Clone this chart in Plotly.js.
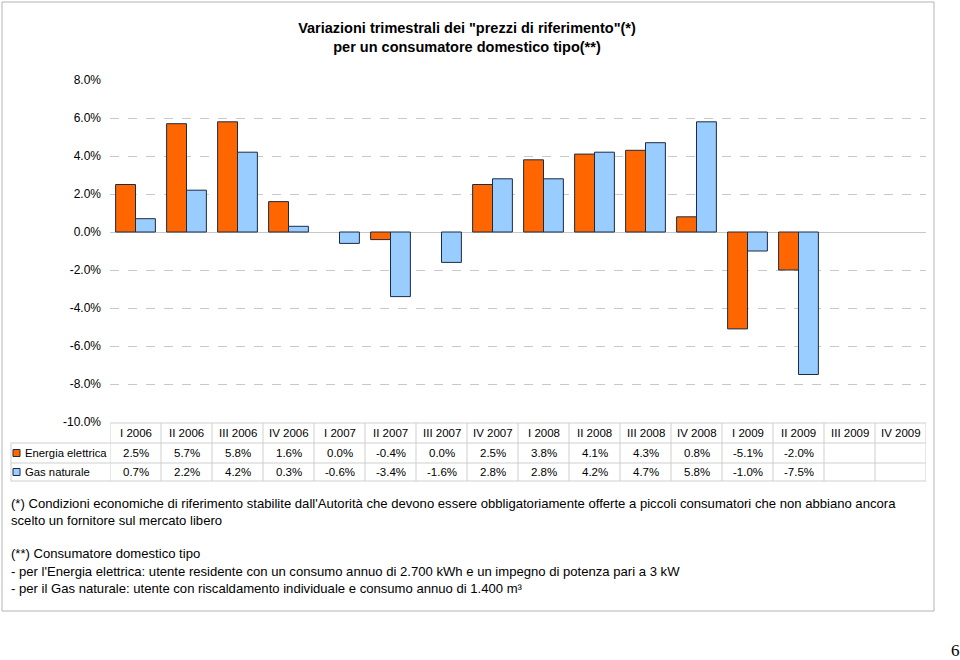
<!DOCTYPE html>
<html>
<head>
<meta charset="utf-8">
<script src="https://cdn.plot.ly/plotly-3.0.1.min.js"></script>
<style>body{margin:0;padding:0;background:#fff;} #chart{width:960px;height:660px;}</style>
</head>
<body>
<div id="chart"></div>
<script>
const categories = ["I 2006","II 2006","III 2006","IV 2006","I 2007","II 2007","III 2007","IV 2007","I 2008","II 2008","III 2008","IV 2008","I 2009","II 2009","III 2009","IV 2009"];
const energiaElettrica = [2.5, 5.7, 5.8, 1.6, 0.0, -0.4, 0.0, 2.5, 3.8, 4.1, 4.3, 0.8, -5.1, -2.0, null, null];
const gasNaturale = [0.7, 2.2, 4.2, 0.3, -0.6, -3.4, -1.6, 2.8, 2.8, 4.2, 4.7, 5.8, -1.0, -7.5, null, null];
const seriesNames = ["Energia elettrica", "Gas naturale"];
const yTickValues = [-10, -8, -6, -4, -2, 0, 2, 4, 6, 8];
const titleText = 'Variazioni trimestrali dei "prezzi di riferimento"(*)<br>per un consumatore domestico tipo(**)';
const footnotes = [
  "(*) Condizioni economiche di riferimento stabilite dall'Autorità che devono essere obbligatoriamente offerte a piccoli consumatori che non abbiano ancora",
  "scelto un fornitore sul mercato libero",
  "(**) Consumatore domestico tipo",
  "- per l'Energia elettrica: utente residente con un consumo annuo di 2.700 kWh e un impegno di potenza pari a 3 kW",
  "- per il Gas naturale: utente con riscaldamento individuale e consumo annuo di 1.400 m³"
];
const pageNumber = "6";

const W = 960, H = 660;
const py = y => 1 - y / H;
const px = x => x / W;
const colors = ["#FF6600", "#99CCFF"];
const outline = "#1c2b45";
const gridCol = "#c8c8c8";
const tableCol = "#cfcfcf";
const font = "Liberation Sans, Arial, sans-serif";

const traces = [energiaElettrica, gasNaturale].map((vals, i) => ({
  type: "bar",
  x: categories,
  y: vals,
  name: seriesNames[i],
  marker: {color: colors[i], line: {color: outline, width: vals.map(v => (v === 0 || v === null) ? 0 : 1)}},
  hoverinfo: "skip"
}));

const shapes = [];
const annotations = [];

// outer frame
shapes.push({type: "rect", xref: "paper", yref: "paper", x0: px(2), x1: px(934), y0: py(2), y1: py(611), line: {color: "#b4b4b4", width: 1}, layer: "below"});

// data table
const yHeadTop = 423, yRow1 = 443, yRow2 = 463, yBot = 481;
shapes.push({type: "line", xref: "x", yref: "paper", x0: -0.5, x1: categories.length - 0.5, y0: py(yHeadTop), y1: py(yHeadTop), line: {color: tableCol, width: 1}});
[yRow1, yRow2, yBot].forEach(y => shapes.push({type: "line", xref: "paper", yref: "paper", x0: px(11), x1: px(926), y0: py(y), y1: py(y), line: {color: tableCol, width: 1}}));
for (let i = 0; i <= categories.length; i++) {
  shapes.push({type: "line", xref: "x", yref: "paper", x0: i - 0.5, x1: i - 0.5, y0: py(yHeadTop), y1: py(yBot), line: {color: tableCol, width: 1}});
}
shapes.push({type: "line", xref: "paper", yref: "paper", x0: px(11), x1: px(11), y0: py(yRow1), y1: py(yBot), line: {color: tableCol, width: 1}});

categories.forEach((c, i) => {
  annotations.push({xref: "x", yref: "paper", x: c, y: py((yHeadTop + yRow1) / 2), text: c, showarrow: false, font: {family: font, size: 11.5, color: "#000"}, xanchor: "center", yanchor: "middle"});
});
[energiaElettrica, gasNaturale].forEach((vals, r) => {
  const yc = r === 0 ? (yRow1 + yRow2) / 2 : (yRow2 + yBot) / 2;
  vals.forEach((v, i) => {
    if (v === null) return;
    annotations.push({xref: "x", yref: "paper", x: categories[i], y: py(yc), text: v.toFixed(1) + "%", showarrow: false, font: {family: font, size: 11.5, color: "#000"}, xanchor: "center", yanchor: "middle"});
  });
  shapes.push({type: "rect", xref: "paper", yref: "paper", x0: px(13), x1: px(20), y0: py(yc - 3.5), y1: py(yc + 3.5), fillcolor: colors[r], line: {color: outline, width: 1}});
  annotations.push({xref: "paper", yref: "paper", x: px(23), y: py(yc), text: seriesNames[r], showarrow: false, font: {family: font, size: 11.3, color: "#000"}, xanchor: "left", yanchor: "middle"});
});

// footnotes
const footY = [503, 520, 553, 571, 588];
footnotes.forEach((t, i) => {
  annotations.push({xref: "paper", yref: "paper", x: px(9), y: py(footY[i]), text: t, showarrow: false, font: {family: font, size: 13.1, color: "#000"}, xanchor: "left", yanchor: "middle"});
});

// page number
annotations.push({xref: "paper", yref: "paper", x: px(955), y: py(650), text: pageNumber, showarrow: false, font: {family: "Liberation Serif, Times New Roman, serif", size: 17, color: "#000"}, xanchor: "center", yanchor: "middle"});

const layout = {
  width: W, height: H,
  margin: {l: 0, r: 0, t: 0, b: 0},
  paper_bgcolor: "#fff", plot_bgcolor: "#fff",
  showlegend: false,
  barmode: "group",
  bargap: 0.22,
  bargroupgap: 0,
  title: {text: titleText, x: px(467), xanchor: "center", y: py(33), yanchor: "middle", font: {family: font, size: 14.5, color: "#000", weight: "bold"}},
  xaxis: {
    type: "category", domain: [px(110), px(926)], range: [-0.5, categories.length - 0.5],
    showticklabels: false, showgrid: false, zeroline: false, showline: false, fixedrange: true
  },
  yaxis: {
    domain: [py(422), py(80)], range: [-10, 8],
    tickmode: "array", tickvals: yTickValues, ticktext: yTickValues.map(v => v.toFixed(1) + "%"),
    showgrid: true, gridcolor: gridCol, griddash: "dash", gridwidth: 1,
    zeroline: true, zerolinecolor: gridCol, zerolinewidth: 1,
    showline: false, ticks: "", ticklabelstandoff: 8,
    tickfont: {family: font, size: 12, color: "#000"}, fixedrange: true
  },
  shapes: shapes,
  annotations: annotations
};

Plotly.newPlot("chart", traces, layout, {staticPlot: true});
</script>
</body>
</html>
